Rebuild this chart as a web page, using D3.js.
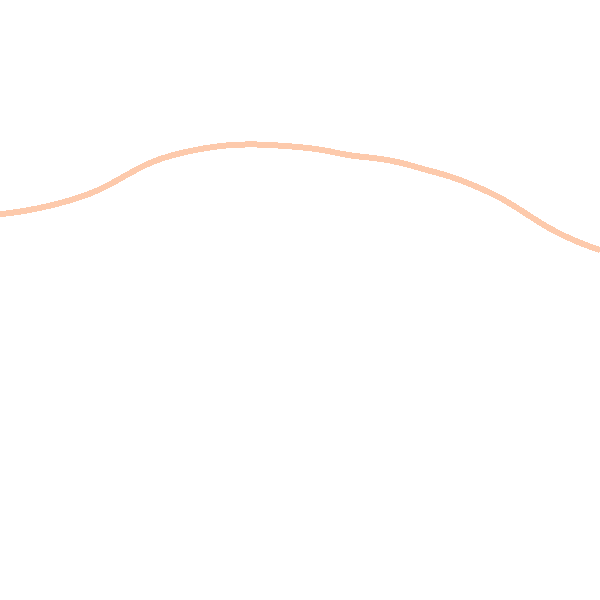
<!DOCTYPE html>
<html>
<head>
<meta charset="utf-8">
<script src="https://cdn.jsdelivr.net/npm/d3@7"></script>
<style>
  body { margin: 0; background: #fff; }
</style>
</head>
<body>
<svg id="chart" width="600" height="600"></svg>
<script>
const steps = d3.range(0, 25);
const values = [64.3, 64.8, 65.7, 66.8, 68.3, 70.7, 73.0, 74.3, 75.2, 75.8, 76.0, 75.8, 75.5,
                75.0, 74.0, 73.7, 73.0, 71.7, 70.7, 69.0, 67.2, 64.5, 61.8, 59.8, 58.3];

const width = 600, height = 600;
const svg = d3.select("#chart");

const x = d3.scaleLinear()
  .domain([0, 24])
  .range([0, width]);

const y = d3.scaleLinear()
  .domain([0, 100])
  .range([height, 0]);

const line = d3.line()
  .x((d, i) => x(steps[i]))
  .y(d => y(d))
  .curve(d3.curveBasis);

// single faint line, no axes
svg.append("path")
  .datum(values)
  .attr("fill", "none")
  .attr("stroke", "#fdcaac")
  .attr("stroke-width", 6)
  .attr("shape-rendering", "crispEdges")
  .attr("d", line);
</script>
</body>
</html>
